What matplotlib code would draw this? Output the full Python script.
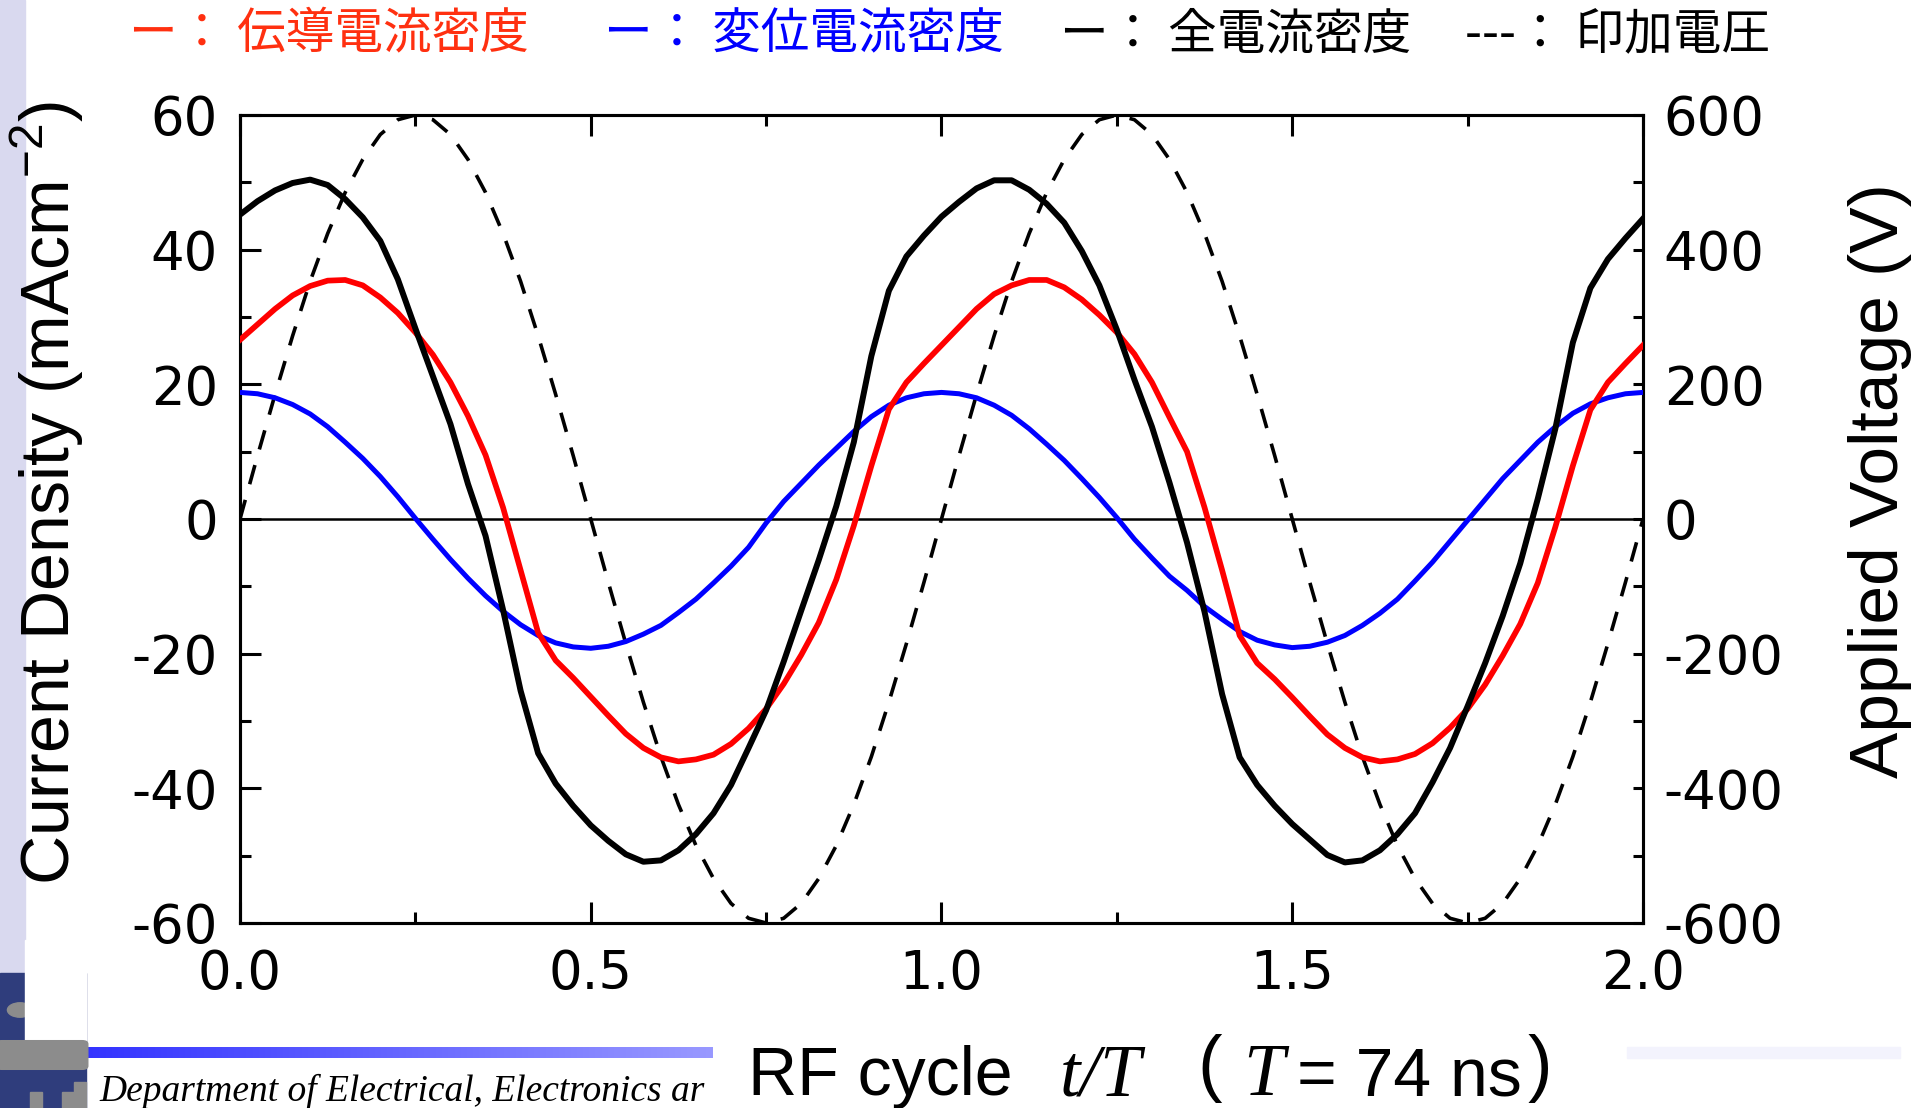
import numpy as np
import matplotlib
matplotlib.use('Agg')
import matplotlib.pyplot as plt
from matplotlib.patches import Rectangle, FancyBboxPatch, Circle

t_over_T = np.linspace(0.0, 2.0, 81)

conduction = [26.6, 28.9, 31.2, 33.2, 34.6, 35.4, 35.5, 34.7, 32.9, 30.6,
              27.7, 24.4, 20.3, 15.3, 9.5, 1.7, -7.6, -16.9, -21.0, -23.6,
              -26.4, -29.2, -31.9, -34.0, -35.4, -36.0, -35.7, -35.0, -33.4, -31.1,
              -28.2, -24.5, -20.2, -15.4, -9.0, -1.0, 7.9, 16.3, 20.3, 23.1,
              25.8, 28.5, 31.2, 33.4, 34.7, 35.5, 35.5, 34.4, 32.6, 30.3,
              27.7, 24.5, 20.3, 15.1, 10.0, 1.7, -7.6, -17.3, -21.4, -23.8,
              -26.5, -29.3, -32.0, -34.0, -35.4, -36.0, -35.7, -34.9, -33.3, -31.0,
              -28.2, -24.6, -20.3, -15.6, -9.5, -1.2, 7.9, 16.2, 20.3, 23.1,
              25.8]

displacement = [18.8, 18.6, 18.0, 17.0, 15.6, 13.7, 11.4, 9.0, 6.3, 3.3,
                0.1, -3.0, -6.0, -8.8, -11.4, -13.7, -15.7, -17.3, -18.4, -19.0,
                -19.2, -18.9, -18.2, -17.1, -15.8, -13.9, -11.9, -9.5, -7.0, -4.2,
                -0.6, 2.6, 5.3, 8.0, 10.5, 13.0, 15.2, 16.9, 18.0, 18.6,
                18.8, 18.6, 18.0, 16.9, 15.4, 13.4, 11.1, 8.7, 6.0, 3.2,
                0.2, -3.0, -5.8, -8.5, -10.6, -13.0, -14.9, -16.7, -18.0, -18.7,
                -19.1, -18.9, -18.3, -17.3, -15.8, -14.0, -11.9, -9.2, -6.4, -3.3,
                -0.2, 2.9, 6.0, 8.7, 11.4, 13.7, 15.7, 17.1, 18.0, 18.6,
                18.8]

total = [45.2, 47.2, 48.8, 49.9, 50.4, 49.6, 47.5, 44.8, 41.3, 35.6,
         28.3, 21.2, 14.1, 5.2, -2.5, -13.5, -25.5, -34.8, -39.3, -42.6,
         -45.5, -47.8, -49.8, -50.9, -50.7, -49.2, -46.8, -43.7, -39.5, -34.0,
         -28.4, -21.2, -13.6, -6.1, 1.9, 11.4, 24.2, 33.9, 39.0, 42.1,
         44.9, 47.1, 49.1, 50.3, 50.3, 48.9, 46.8, 44.0, 39.8, 34.7,
         28.1, 20.7, 13.7, 5.4, -3.5, -13.8, -26.0, -35.4, -39.5, -42.6,
         -45.3, -47.6, -49.9, -51.0, -50.7, -49.2, -46.8, -43.7, -39.1, -34.0,
         -27.8, -21.4, -14.4, -6.6, 3.0, 13.4, 26.2, 34.3, 38.6, 41.7,
         44.6]

voltage = [0, 94, 185, 272, 353, 424, 485, 534, 571, 593,
           600, 593, 571, 534, 485, 424, 353, 272, 185, 94,
           0, -94, -185, -272, -353, -424, -485, -534, -571, -593,
           -600, -593, -571, -534, -485, -424, -353, -272, -185, -94,
           0, 94, 185, 272, 353, 424, 485, 534, 571, 593,
           600, 593, 571, 534, 485, 424, 353, 272, 185, 94,
           0, -94, -185, -272, -353, -424, -485, -534, -571, -593,
           -600, -593, -571, -534, -485, -424, -353, -272, -185, -94,
           0]

x_ticks = [0.0, 0.5, 1.0, 1.5, 2.0]
x_tick_labels = ['0.0', '0.5', '1.0', '1.5', '2.0']
y_ticks = [-60, -40, -20, 0, 20, 40, 60]
y_tick_labels = ['-60', '-40', '-20', '0', '20', '40', '60']
v_ticks = [-600, -400, -200, 0, 200, 400, 600]
v_tick_labels = ['-600', '-400', '-200', '0', '200', '400', '600']

legend_items = ['ー： 伝導電流密度', 'ー： 変位電流密度', 'ー： 全電流密度', '---： 印加電圧']
legend_colors = ['#ff3010', '#0000ff', 'black', 'black']
legend_x = [129, 604, 1060, 1465]

plt.rcParams['font.family'] = ['DejaVu Sans']
plt.rcParams['axes.unicode_minus'] = False

W, H = 1933, 1108
fig = plt.figure(figsize=(W / 100, H / 100), dpi=100)
fig.patch.set_facecolor('white')


def fx(px):
	return px / W


def fy(py):
	return 1 - py / H


def fig_rect(x0, y0, x1, y1, color, z=0):
	# rectangle given in pixel corners (top-left origin)
	fig.patches.append(Rectangle((fx(x0), fy(y1)), fx(x1 - x0), (y1 - y0) / H,
	                             transform=fig.transFigure, color=color, zorder=z))


# ---- slide decoration (left strip, logo, footer bar) ----
fig_rect(0, 0, 25, 973, '#d9d9ef')
fig_rect(0, 973, 86, 1108, '#2f3d7c')
fig.patches.append(Circle((fx(20), fy(1010)), 0.0065, transform=fig.transFigure, color='#8c8c8c', zorder=1))
fig_rect(25, 940, 86, 1040, 'white', z=2)
fig.patches.append(FancyBboxPatch((fx(2), fy(1066)), fx(80), 22 / H, boxstyle='round,pad=0.003',
                                  transform=fig.transFigure, color='#8c8c8c', zorder=3))
fig_rect(30, 1092, 42, 1108, '#8c8c8c', z=3)
fig_rect(62, 1092, 74, 1108, '#8c8c8c', z=3)
fig_rect(74, 1082, 86, 1108, '#8c8c8c', z=3)
fig_rect(1627, 1047, 1900, 1058, '#f3f3fd')

ax_bar = fig.add_axes([fx(86), fy(1058), fx(713 - 86), 11 / H])
grad = np.linspace(0, 1, 256)
bar_rgb = np.stack([0.2 + 0.4 * grad, 0.2 + 0.4 * grad, np.ones_like(grad)], axis=-1)[None, :, :]
ax_bar.imshow(bar_rgb, aspect='auto')
ax_bar.axis('off')

fig.text(fx(99), fy(1101), 'Department of Electrical, Electronics ar', family='Liberation Serif',
         style='italic', fontsize=27, va='baseline', ha='left')

# ---- main plot ----
ax = fig.add_axes([fx(240), fy(923), fx(1643 - 240), (923 - 115) / H])
ax2 = ax.twinx()
ax.set_zorder(ax2.get_zorder() + 1)
ax.patch.set_visible(False)
ax2.set_facecolor('#fffdbb')

ax2.plot(t_over_T, voltage, color='black', lw=2.6, dashes=(5.5, 4.5))
ax.axhline(0, color='black', lw=1.8, zorder=1)
ax.plot(t_over_T, displacement, color='#0000ff', lw=3.6, zorder=3, solid_joinstyle='round')
ax.plot(t_over_T, conduction, color='#ff0000', lw=4.1, zorder=4, solid_joinstyle='round')
ax.plot(t_over_T, total, color='black', lw=4.3, zorder=5, solid_joinstyle='round')

ax.set_xlim(0, 2)
ax.set_ylim(-60, 60)
ax2.set_ylim(-600, 600)

ax.set_xticks(x_ticks)
ax.set_xticklabels(x_tick_labels)
ax.set_xticks([0.25, 0.75, 1.25, 1.75], minor=True)
ax.set_yticks(y_ticks)
ax.set_yticklabels(y_tick_labels)
ax.set_yticks([-50, -30, -10, 10, 30, 50], minor=True)
ax2.set_yticks(v_ticks)
ax2.set_yticklabels(v_tick_labels)
ax2.set_yticks([-500, -300, -100, 100, 300, 500], minor=True)

ax.tick_params(axis='both', which='both', direction='in', width=2.2, labelsize=38,
               top=True, bottom=True, left=True, right=False)
ax.tick_params(axis='both', which='major', length=15)
ax.tick_params(axis='both', which='minor', length=8)
ax.tick_params(axis='y', pad=16)
ax.tick_params(axis='x', pad=18)
ax2.tick_params(axis='y', which='both', direction='in', width=2.2, length=7, labelsize=38, pad=15)

for a in (ax, ax2):
	for s in a.spines.values():
		s.set_linewidth(2.2)

# ---- labels ----
fig.text(fx(47), fy(493), 'Current Density (mAcm$^{\\mathregular{-2}}$)', family='Liberation Sans',
         fontsize=49, rotation=90, ha='center', va='center')
fig.text(fx(1880), fy(481), 'Applied Voltage (V)', family='Liberation Sans',
         fontsize=50, rotation=90, ha='center', va='center')

base = fy(1095)
fig.text(fx(748), base, 'RF cycle', family='Liberation Sans', fontsize=49, va='baseline')
fig.text(fx(1060), base, 't/T', family='Liberation Serif', style='italic', fontsize=53, va='baseline')
fig.text(fx(1197), fy(1088), '(', family='Liberation Sans', fontsize=53, va='baseline')
fig.text(fx(1243), base, 'T', family='Liberation Serif', style='italic', fontsize=53, va='baseline')
fig.text(fx(1297), base, '= 74 ns', family='Liberation Sans', fontsize=49, va='baseline')
fig.text(fx(1528), fy(1088), ')', family='Liberation Sans', fontsize=53, va='baseline')

for label, color, x in zip(legend_items, legend_colors, legend_x):
	fig.text(fx(x), fy(35), label, color=color, family=['Noto Sans CJK JP', 'DejaVu Sans'],
	         fontsize=35, ha='left', va='center')

plt.savefig('out.png', dpi=100)
